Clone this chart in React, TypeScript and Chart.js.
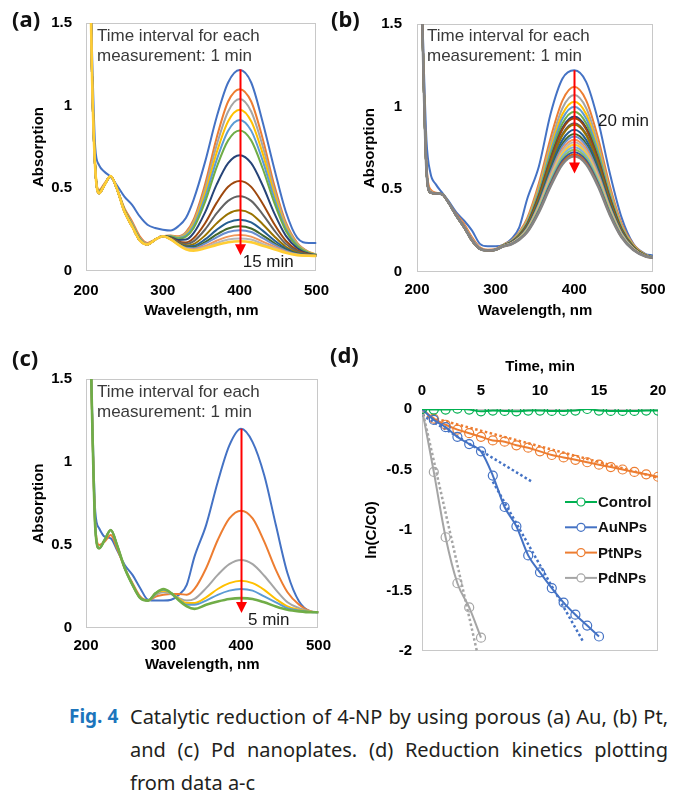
import React, { useEffect, useRef } from 'react';
import { Chart, registerables } from 'chart.js';
Chart.register(...registerables);

const FONT = "'Liberation Sans', Arial, sans-serif";

// ---------- shared wavelength grid (nm) ----------
const WL = [205, 208, 212, 217, 224, 232, 240, 250, 260, 270, 280, 290, 300, 310, 320, 330, 340, 355, 370, 385, 400, 415, 430, 445, 460, 475, 490, 500];

const EXCEL = ['#4472C4', '#ED7D31', '#A5A5A5', '#FFC000', '#5B9BD5', '#70AD47', '#264478', '#9E480E', '#636363', '#997300', '#255E91', '#43682B', '#698ED0', '#F1975A', '#B7B7B7', '#FFCD33', '#7CAFDD', '#8CC168', '#335AA1', '#D26012', '#848484'];

// ---------- (a) Au spectra, 0..15 min ----------
const A0 = [1.9, 1.3, 0.75, 0.64, 0.6, 0.57, 0.52, 0.45, 0.4, 0.33, 0.28, 0.26, 0.25, 0.245, 0.27, 0.32, 0.43, 0.66, 0.93, 1.14, 1.215, 1.14, 0.9, 0.62, 0.36, 0.2, 0.17, 0.17];
const A1 = [1.9, 1.18, 0.64, 0.49, 0.53, 0.57, 0.5, 0.38, 0.3, 0.21, 0.17, 0.19, 0.21, 0.215, 0.21, 0.235, 0.31, 0.525, 0.805, 1.025, 1.1, 1.025, 0.8, 0.52, 0.295, 0.17, 0.115, 0.1];
const A2 = [1.9, 1.17, 0.63, 0.48, 0.525, 0.57, 0.5, 0.37, 0.29, 0.2, 0.165, 0.19, 0.21, 0.213, 0.206, 0.228, 0.297, 0.498, 0.76, 0.965, 1.04, 0.965, 0.755, 0.493, 0.282, 0.165, 0.113, 0.099];
const A3 = [1.9, 1.16, 0.63, 0.48, 0.52, 0.57, 0.5, 0.37, 0.28, 0.195, 0.16, 0.19, 0.21, 0.212, 0.203, 0.221, 0.284, 0.471, 0.715, 0.906, 0.976, 0.906, 0.71, 0.466, 0.269, 0.16, 0.112, 0.099];
const A4 = [1.9, 1.16, 0.63, 0.48, 0.52, 0.57, 0.5, 0.37, 0.28, 0.195, 0.16, 0.19, 0.21, 0.21, 0.2, 0.214, 0.272, 0.445, 0.671, 0.849, 0.914, 0.849, 0.666, 0.44, 0.257, 0.155, 0.11, 0.098];
const A5 = [1.9, 1.16, 0.63, 0.48, 0.52, 0.57, 0.5, 0.37, 0.28, 0.195, 0.16, 0.19, 0.21, 0.209, 0.196, 0.207, 0.259, 0.418, 0.627, 0.79, 0.85, 0.79, 0.62, 0.413, 0.244, 0.15, 0.109, 0.097];
const A6 = [1.9, 1.15, 0.62, 0.47, 0.52, 0.575, 0.5, 0.36, 0.27, 0.185, 0.16, 0.19, 0.21, 0.205, 0.188, 0.19, 0.229, 0.355, 0.522, 0.652, 0.7, 0.652, 0.517, 0.35, 0.214, 0.138, 0.105, 0.096];
const A7 = [1.9, 1.15, 0.62, 0.47, 0.52, 0.575, 0.5, 0.36, 0.27, 0.185, 0.16, 0.19, 0.21, 0.201, 0.179, 0.173, 0.198, 0.289, 0.412, 0.509, 0.544, 0.509, 0.407, 0.284, 0.183, 0.125, 0.101, 0.094];
const A8 = [1.9, 1.15, 0.62, 0.47, 0.52, 0.575, 0.5, 0.36, 0.27, 0.185, 0.16, 0.19, 0.21, 0.199, 0.174, 0.163, 0.179, 0.251, 0.348, 0.424, 0.452, 0.424, 0.343, 0.246, 0.164, 0.118, 0.099, 0.093];
const A9 = [1.9, 1.15, 0.62, 0.47, 0.52, 0.575, 0.5, 0.36, 0.27, 0.185, 0.16, 0.19, 0.21, 0.197, 0.169, 0.154, 0.162, 0.215, 0.288, 0.346, 0.367, 0.346, 0.283, 0.21, 0.147, 0.111, 0.097, 0.093];
const A10 = [1.9, 1.15, 0.62, 0.47, 0.52, 0.575, 0.5, 0.36, 0.27, 0.185, 0.16, 0.19, 0.21, 0.195, 0.166, 0.148, 0.151, 0.191, 0.249, 0.294, 0.31, 0.294, 0.244, 0.186, 0.136, 0.106, 0.095, 0.092];
const A11 = [1.9, 1.15, 0.62, 0.47, 0.52, 0.575, 0.5, 0.36, 0.27, 0.185, 0.16, 0.19, 0.21, 0.194, 0.164, 0.143, 0.143, 0.174, 0.221, 0.257, 0.27, 0.257, 0.216, 0.169, 0.128, 0.103, 0.094, 0.092];
const A12 = [1.9, 1.15, 0.62, 0.47, 0.52, 0.575, 0.5, 0.36, 0.27, 0.185, 0.16, 0.19, 0.21, 0.194, 0.163, 0.141, 0.138, 0.165, 0.204, 0.236, 0.247, 0.236, 0.199, 0.16, 0.123, 0.101, 0.094, 0.091];
const A13 = [1.9, 1.15, 0.62, 0.47, 0.52, 0.575, 0.5, 0.36, 0.27, 0.185, 0.16, 0.19, 0.21, 0.193, 0.161, 0.137, 0.132, 0.152, 0.183, 0.208, 0.217, 0.208, 0.178, 0.147, 0.117, 0.099, 0.093, 0.091];
const A14 = [1.9, 1.15, 0.62, 0.47, 0.52, 0.575, 0.5, 0.36, 0.27, 0.185, 0.16, 0.19, 0.21, 0.192, 0.16, 0.135, 0.128, 0.144, 0.169, 0.19, 0.197, 0.19, 0.164, 0.139, 0.113, 0.097, 0.092, 0.091];
const A15 = [1.9, 1.15, 0.62, 0.47, 0.52, 0.575, 0.5, 0.36, 0.27, 0.185, 0.16, 0.19, 0.21, 0.192, 0.159, 0.132, 0.123, 0.137, 0.158, 0.174, 0.18, 0.174, 0.153, 0.132, 0.11, 0.096, 0.092, 0.091];
const SPEC_A = [A0, A1, A2, A3, A4, A5, A6, A7, A8, A9, A10, A11, A12, A13, A14, A15];

// ---------- (b) Pt spectra, 0..20 min ----------
const B0 = [1.9, 1.35, 0.8, 0.6, 0.53, 0.48, 0.43, 0.36, 0.31, 0.25, 0.17, 0.155, 0.155, 0.165, 0.2, 0.27, 0.44, 0.64, 0.96, 1.17, 1.22, 1.15, 0.92, 0.6, 0.33, 0.17, 0.11, 0.1];
const B1 = [1.9, 1.28, 0.66, 0.5, 0.48, 0.47, 0.42, 0.35, 0.29, 0.21, 0.15, 0.135, 0.14, 0.166, 0.191, 0.242, 0.324, 0.538, 0.814, 1.038, 1.12, 1.038, 0.814, 0.523, 0.294, 0.167, 0.106, 0.09];
const B2 = [1.9, 1.26, 0.64, 0.49, 0.478, 0.47, 0.42, 0.345, 0.28, 0.2, 0.145, 0.132, 0.137, 0.164, 0.188, 0.237, 0.314, 0.517, 0.779, 0.992, 1.07, 0.992, 0.779, 0.502, 0.284, 0.163, 0.104, 0.09];
const B3 = [1.9, 1.25, 0.62, 0.48, 0.475, 0.47, 0.42, 0.34, 0.27, 0.19, 0.14, 0.13, 0.135, 0.163, 0.186, 0.232, 0.306, 0.501, 0.751, 0.956, 1.03, 0.956, 0.751, 0.486, 0.276, 0.159, 0.103, 0.089];
const B4 = [1.9, 1.25, 0.62, 0.48, 0.475, 0.47, 0.42, 0.34, 0.27, 0.19, 0.14, 0.13, 0.135, 0.163, 0.185, 0.229, 0.3, 0.488, 0.73, 0.928, 1.0, 0.928, 0.73, 0.473, 0.27, 0.157, 0.103, 0.089];
const B5 = [1.9, 1.25, 0.62, 0.48, 0.475, 0.47, 0.42, 0.34, 0.27, 0.19, 0.14, 0.13, 0.135, 0.162, 0.183, 0.226, 0.294, 0.475, 0.709, 0.9, 0.97, 0.9, 0.709, 0.46, 0.264, 0.155, 0.102, 0.089];
const B6 = [1.9, 1.25, 0.62, 0.48, 0.475, 0.47, 0.42, 0.34, 0.27, 0.19, 0.14, 0.13, 0.135, 0.161, 0.181, 0.222, 0.288, 0.463, 0.688, 0.873, 0.94, 0.873, 0.688, 0.448, 0.258, 0.152, 0.101, 0.088];
const B7 = [1.9, 1.25, 0.62, 0.48, 0.475, 0.47, 0.42, 0.34, 0.27, 0.19, 0.14, 0.13, 0.135, 0.161, 0.181, 0.221, 0.286, 0.459, 0.681, 0.864, 0.93, 0.864, 0.681, 0.444, 0.256, 0.151, 0.101, 0.088];
const B8 = [1.9, 1.25, 0.62, 0.48, 0.475, 0.47, 0.42, 0.34, 0.27, 0.19, 0.14, 0.13, 0.135, 0.16, 0.179, 0.218, 0.28, 0.446, 0.66, 0.836, 0.9, 0.836, 0.66, 0.431, 0.25, 0.149, 0.1, 0.088];
const B9 = [1.9, 1.25, 0.62, 0.48, 0.475, 0.47, 0.42, 0.34, 0.27, 0.19, 0.14, 0.13, 0.135, 0.16, 0.178, 0.217, 0.278, 0.442, 0.653, 0.827, 0.89, 0.827, 0.653, 0.427, 0.248, 0.148, 0.1, 0.088];
const B10 = [1.9, 1.25, 0.62, 0.48, 0.475, 0.47, 0.42, 0.34, 0.27, 0.19, 0.14, 0.13, 0.135, 0.159, 0.177, 0.214, 0.272, 0.429, 0.632, 0.799, 0.86, 0.799, 0.632, 0.414, 0.242, 0.146, 0.099, 0.088];
const B11 = [1.9, 1.25, 0.62, 0.48, 0.475, 0.47, 0.42, 0.34, 0.27, 0.19, 0.14, 0.13, 0.135, 0.158, 0.175, 0.211, 0.267, 0.419, 0.615, 0.776, 0.835, 0.776, 0.615, 0.404, 0.237, 0.144, 0.098, 0.087];
const B12 = [1.9, 1.25, 0.62, 0.48, 0.475, 0.47, 0.42, 0.34, 0.27, 0.19, 0.14, 0.13, 0.135, 0.158, 0.175, 0.209, 0.264, 0.412, 0.604, 0.762, 0.82, 0.762, 0.604, 0.397, 0.234, 0.143, 0.098, 0.087];
const B13 = [1.9, 1.25, 0.62, 0.48, 0.475, 0.47, 0.42, 0.34, 0.27, 0.19, 0.14, 0.13, 0.135, 0.158, 0.174, 0.207, 0.26, 0.404, 0.59, 0.744, 0.8, 0.744, 0.59, 0.389, 0.23, 0.141, 0.098, 0.087];
const B14 = [1.9, 1.25, 0.62, 0.48, 0.475, 0.47, 0.42, 0.34, 0.27, 0.19, 0.14, 0.13, 0.135, 0.157, 0.173, 0.205, 0.257, 0.398, 0.58, 0.73, 0.785, 0.73, 0.58, 0.383, 0.227, 0.14, 0.097, 0.087];
const B15 = [1.9, 1.25, 0.62, 0.48, 0.475, 0.47, 0.42, 0.34, 0.27, 0.19, 0.14, 0.13, 0.135, 0.157, 0.172, 0.204, 0.254, 0.391, 0.569, 0.716, 0.77, 0.716, 0.569, 0.376, 0.224, 0.139, 0.097, 0.087];
const B16 = [1.9, 1.25, 0.62, 0.48, 0.475, 0.47, 0.42, 0.34, 0.27, 0.19, 0.14, 0.13, 0.135, 0.156, 0.171, 0.202, 0.251, 0.385, 0.559, 0.703, 0.755, 0.703, 0.559, 0.37, 0.221, 0.137, 0.096, 0.087];
const B17 = [1.9, 1.25, 0.62, 0.48, 0.475, 0.47, 0.42, 0.34, 0.27, 0.19, 0.14, 0.13, 0.135, 0.156, 0.17, 0.2, 0.248, 0.379, 0.548, 0.689, 0.74, 0.689, 0.548, 0.364, 0.218, 0.136, 0.096, 0.086];
const B18 = [1.9, 1.25, 0.62, 0.48, 0.475, 0.47, 0.42, 0.34, 0.27, 0.19, 0.14, 0.13, 0.135, 0.156, 0.169, 0.199, 0.245, 0.373, 0.538, 0.675, 0.725, 0.675, 0.538, 0.358, 0.215, 0.135, 0.096, 0.086];
const B19 = [1.9, 1.25, 0.62, 0.48, 0.475, 0.47, 0.42, 0.34, 0.27, 0.19, 0.14, 0.13, 0.135, 0.155, 0.169, 0.197, 0.242, 0.366, 0.527, 0.661, 0.71, 0.661, 0.527, 0.351, 0.212, 0.134, 0.095, 0.086];
const B20 = [1.9, 1.25, 0.62, 0.48, 0.475, 0.47, 0.42, 0.34, 0.27, 0.19, 0.14, 0.13, 0.135, 0.155, 0.168, 0.196, 0.24, 0.362, 0.52, 0.652, 0.7, 0.652, 0.52, 0.347, 0.21, 0.133, 0.095, 0.086];
const SPEC_B = [B0, B1, B2, B3, B4, B5, B6, B7, B8, B9, B10, B11, B12, B13, B14, B15, B16, B17, B18, B19, B20];

// ---------- (c) Pd spectra, 0..5 min ----------
const C0 = [1.9, 1.3, 0.7, 0.6, 0.55, 0.54, 0.47, 0.38, 0.32, 0.24, 0.17, 0.165, 0.165, 0.17, 0.2, 0.26, 0.43, 0.62, 0.88, 1.1, 1.2, 1.12, 0.92, 0.62, 0.33, 0.16, 0.1, 0.095];
const C1 = [1.9, 1.25, 0.62, 0.5, 0.52, 0.56, 0.48, 0.36, 0.27, 0.19, 0.165, 0.19, 0.2, 0.205, 0.205, 0.2, 0.235, 0.36, 0.53, 0.66, 0.707, 0.66, 0.52, 0.35, 0.215, 0.14, 0.1, 0.095];
const C2 = [1.9, 1.25, 0.6, 0.48, 0.53, 0.59, 0.5, 0.36, 0.26, 0.18, 0.165, 0.2, 0.215, 0.205, 0.18, 0.165, 0.175, 0.24, 0.32, 0.385, 0.41, 0.385, 0.315, 0.23, 0.155, 0.12, 0.1, 0.095];
const C3 = [1.9, 1.25, 0.6, 0.48, 0.53, 0.59, 0.5, 0.36, 0.26, 0.18, 0.165, 0.21, 0.225, 0.21, 0.175, 0.15, 0.15, 0.185, 0.235, 0.27, 0.285, 0.27, 0.23, 0.175, 0.13, 0.11, 0.098, 0.095];
const C4 = [1.9, 1.25, 0.6, 0.48, 0.53, 0.59, 0.5, 0.36, 0.26, 0.18, 0.165, 0.21, 0.23, 0.21, 0.17, 0.14, 0.14, 0.165, 0.2, 0.225, 0.235, 0.225, 0.19, 0.155, 0.12, 0.105, 0.097, 0.095];
const C5 = [1.9, 1.25, 0.6, 0.48, 0.53, 0.59, 0.5, 0.36, 0.26, 0.18, 0.165, 0.21, 0.235, 0.21, 0.165, 0.13, 0.115, 0.14, 0.16, 0.175, 0.18, 0.175, 0.155, 0.13, 0.11, 0.1, 0.095, 0.095];
const SPEC_C = [C0, C1, C2, C3, C4, C5];

const ABS_TICKS = [0, 0.5, 1, 1.5];
const WL_TICKS = [200, 300, 400, 500];
const NOTE = ['Time interval for each', 'measurement: 1 min'];

// ---------- (d) kinetics ----------
const TIME = [0, 1, 2, 3, 4, 5, 6, 7, 8, 9, 10, 11, 12, 13, 14, 15, 16, 17, 18, 19, 20];
const CONTROL = [0, -0.005, -0.005, 0.003, -0.005, -0.019, -0.013, -0.016, -0.019, -0.013, -0.013, -0.016, -0.016, -0.013, 0, -0.013, -0.016, -0.016, -0.016, -0.013, -0.013];
const AU = [0, -0.09, -0.15, -0.23, -0.29, -0.35, -0.55, -0.81, -0.97, -1.21, -1.35, -1.48, -1.6, -1.7, -1.79, -1.88];
const PT = [0, -0.08, -0.13, -0.17, -0.2, -0.23, -0.26, -0.27, -0.3, -0.32, -0.35, -0.38, -0.4, -0.42, -0.44, -0.46, -0.48, -0.5, -0.52, -0.54, -0.56];
const PD = [0, -0.52, -1.06, -1.44, -1.64, -1.89];
const AU_FIT1_T = [0, 9.3];
const AU_FIT1_Y = [-0.05, -0.6];
const AU_FIT2_T = [6, 13.7];
const AU_FIT2_Y = [-0.6, -1.93];
const PT_FIT_T = [0, 20];
const PT_FIT_Y = [-0.05, -0.568];
const PD_FIT_T = [0.1, 4.65];
const PD_FIT_Y = [-0.04, -2.0];
const LN_TICKS = [0, -0.5, -1, -1.5, -2];
const TIME_TICKS = [0, 5, 10, 15, 20];

const C_GREEN = '#00B050';
const C_BLUE = '#4472C4';
const C_ORANGE = '#ED7D31';
const C_GRAY = '#A5A5A5';

// ---------- plugins ----------
const framePlugin = {
  id: 'frame',
  beforeDatasetsDraw(chart: any, _a: any, o: any) {
    if (!o || !o.color) return;
    const { ctx, chartArea: a } = chart;
    ctx.save();
    ctx.strokeStyle = o.color;
    ctx.lineWidth = 1;
    ctx.strokeRect(Math.round(a.left) + 0.5, Math.round(a.top) + 0.5, Math.round(a.width) - 1, Math.round(a.height) - 1);
    ctx.restore();
  },
};

const annoPlugin = {
  id: 'anno',
  afterDatasetsDraw(chart: any, _a: any, o: any) {
    if (!o || !o.arrow) return;
    const { ctx, chartArea: a } = chart;
    const xs = chart.scales.x;
    const ys = chart.scales.y;
    ctx.save();
    ctx.font = `17px ${FONT}`;
    ctx.fillStyle = '#3a3a3a';
    ctx.textAlign = 'left';
    ctx.textBaseline = 'middle';
    NOTE.forEach((line, i) => ctx.fillText(line, a.left + o.noteDx, a.top + o.noteDy + i * 20));
    const x = Math.round(xs.getPixelForValue(o.arrow.x)) + 0.5;
    const y1 = ys.getPixelForValue(o.arrow.from);
    const y2 = ys.getPixelForValue(o.arrow.to);
    ctx.strokeStyle = '#FF0000';
    ctx.fillStyle = '#FF0000';
    ctx.lineWidth = 2;
    ctx.beginPath();
    ctx.moveTo(x, y1);
    ctx.lineTo(x, y2 - 8);
    ctx.stroke();
    ctx.beginPath();
    ctx.moveTo(x - 5.5, y2 - 11);
    ctx.lineTo(x + 5.5, y2 - 11);
    ctx.lineTo(x, y2);
    ctx.closePath();
    ctx.fill();
    ctx.fillStyle = '#1a1a1a';
    ctx.fillText(o.label.text, xs.getPixelForValue(o.label.x), ys.getPixelForValue(o.label.y));
    ctx.restore();
  },
};

const legendPlugin = {
  id: 'boxLegend',
  afterDatasetsDraw(chart: any, _a: any, o: any) {
    if (!o || !o.items) return;
    const { ctx, chartArea: a } = chart;
    ctx.save();
    o.items.forEach((idx: number, i: number) => {
      const ds = chart.data.datasets[idx];
      const x0 = a.left + o.x;
      const y = a.top + o.y + i * o.gap;
      ctx.strokeStyle = ds.borderColor;
      ctx.lineWidth = 2;
      ctx.beginPath();
      ctx.moveTo(x0, y);
      ctx.lineTo(x0 + 32, y);
      ctx.stroke();
      ctx.lineWidth = 1.2;
      ctx.beginPath();
      ctx.arc(x0 + 16, y, 4, 0, Math.PI * 2);
      ctx.fillStyle = '#ffffff';
      ctx.fill();
      ctx.stroke();
      ctx.fillStyle = '#111';
      ctx.font = `bold 15px ${FONT}`;
      ctx.textAlign = 'left';
      ctx.textBaseline = 'middle';
      ctx.fillText(ds.label, x0 + 33, y + 1);
    });
    ctx.restore();
  },
};

const tickFont = { family: FONT, size: 15, weight: 'bold' as const };
const numLabel = (v: any) => String(Number(v));

function spectraConfig(specs: number[][], g: any, anno: any) {
  return {
    type: 'line',
    data: {
      datasets: specs.map((vals, i) => ({
        label: `t${i}`,
        data: WL.map((w, j) => ({ x: w, y: vals[j] })),
        borderColor: EXCEL[i],
        borderWidth: i === specs.length - 1 ? 2.6 : 2,
        pointRadius: 0,
        cubicInterpolationMode: 'monotone',
        fill: false,
        order: -i,
      })),
    },
    options: {
      animation: false,
      responsive: false,
      maintainAspectRatio: false,
      events: [],
      layout: { padding: { left: 0, top: g.top, right: g.right, bottom: 0 } },
      plugins: {
        legend: { display: false },
        tooltip: { enabled: false },
        frame: { color: '#C8C8C8' },
        anno,
      },
      scales: {
        x: {
          type: 'linear',
          min: 200,
          max: 500,
          afterBuildTicks: (s: any) => { s.ticks = WL_TICKS.map((v) => ({ value: v })); },
          ticks: { padding: g.xTickPad, font: tickFont, color: '#000', maxRotation: 0, callback: numLabel },
          grid: { display: false, drawTicks: false },
          border: { display: false },
          title: { display: true, text: 'Wavelength, nm', font: tickFont, color: '#000', padding: { top: 0, bottom: 0 } },
          afterFit: (s: any) => { s.height = g.xH; },
        },
        y: {
          type: 'linear',
          min: 0,
          max: 1.5,
          afterBuildTicks: (s: any) => { s.ticks = ABS_TICKS.map((v) => ({ value: v })); },
          ticks: { padding: g.yTickPad, font: tickFont, color: '#000', callback: numLabel },
          grid: { display: false, drawTicks: false },
          border: { display: false },
          title: { display: true, text: 'Absorption', font: tickFont, color: '#000', padding: { top: g.yTitlePad, bottom: 0 } },
          afterFit: (s: any) => { s.width = g.yW; },
        },
      },
    },
    plugins: [framePlugin, annoPlugin],
  };
}

function kineticsConfig() {
  const pts = (ts: number[], ys: number[]) => ys.map((y, i) => ({ x: ts[i], y }));
  const series = (label: string, color: string, ys: number[]) => ({
    label,
    data: pts(TIME, ys),
    borderColor: color,
    borderWidth: 2,
    pointRadius: 4.5,
    pointBorderWidth: 1.2,
    pointBorderColor: color,
    pointBackgroundColor: 'rgba(255,255,255,0)',
    cubicInterpolationMode: 'monotone',
    fill: false,
  });
  const fit = (color: string, ts: number[], ys: number[]) => ({
    label: 'fit',
    data: pts(ts, ys),
    borderColor: color,
    borderWidth: 2.5,
    borderDash: [2.5, 2.5],
    pointRadius: 0,
    fill: false,
  });
  return {
    type: 'line',
    data: {
      datasets: [
        series('Control', C_GREEN, CONTROL),
        series('AuNPs', C_BLUE, AU),
        series('PtNPs', C_ORANGE, PT),
        series('PdNPs', C_GRAY, PD),
        fit(C_BLUE, AU_FIT1_T, AU_FIT1_Y),
        fit(C_BLUE, AU_FIT2_T, AU_FIT2_Y),
        fit(C_ORANGE, PT_FIT_T, PT_FIT_Y),
        fit(C_GRAY, PD_FIT_T, PD_FIT_Y),
      ],
    },
    options: {
      animation: false,
      responsive: false,
      maintainAspectRatio: false,
      events: [],
      layout: { padding: { left: 0, top: 28, right: 28, bottom: 13 } },
      plugins: {
        legend: { display: false },
        tooltip: { enabled: false },
        frame: { color: '#C8C8C8' },
        boxLegend: { items: [0, 1, 2, 3], x: 143, y: 93, gap: 25.3 },
      },
      scales: {
        x: {
          type: 'linear',
          position: 'top',
          min: 0,
          max: 20,
          afterBuildTicks: (s: any) => { s.ticks = TIME_TICKS.map((v) => ({ value: v })); },
          ticks: { padding: 9, font: tickFont, color: '#000', maxRotation: 0, callback: numLabel },
          grid: { display: false, drawTicks: false },
          border: { display: false },
          title: { display: true, text: 'Time, min', font: tickFont, color: '#000', padding: { top: 0, bottom: 0 } },
          afterFit: (s: any) => { s.height = 51; },
        },
        y: {
          type: 'linear',
          min: -2,
          max: 0,
          afterBuildTicks: (s: any) => { s.ticks = LN_TICKS.map((v) => ({ value: v })); },
          ticks: { padding: 10, font: tickFont, color: '#000', callback: numLabel },
          grid: { display: false, drawTicks: false },
          border: { display: false },
          title: { display: true, text: 'ln(C/C0)', font: tickFont, color: '#000', padding: { top: 33, bottom: 0 } },
          afterFit: (s: any) => { s.width = 92; },
        },
      },
    },
    plugins: [framePlugin, legendPlugin],
  };
}

function ChartBox({ left, top, width, height, make }: any) {
  const ref = useRef<HTMLCanvasElement>(null);
  useEffect(() => {
    const chart = new Chart(ref.current as HTMLCanvasElement, make());
    return () => chart.destroy();
  }, []);
  return (
    <canvas
      ref={ref}
      width={width}
      height={height}
      style={{ position: 'absolute', left, top, width, height, display: 'block' }}
    />
  );
}

const panelLabel: React.CSSProperties = {
  position: 'absolute',
  fontFamily: "'Noto Sans', 'Open Sans', sans-serif",
  fontWeight: 700,
  fontSize: 22,
  lineHeight: '30px',
  color: '#111',
};

const capLine: React.CSSProperties = {
  position: 'absolute',
  left: 130,
  width: 538,
  fontFamily: "'Noto Sans', sans-serif",
  fontSize: 20,
  lineHeight: '33px',
  color: '#231f20',
  whiteSpace: 'nowrap',
};

export default function App() {
  const gA = { top: 22, right: 20, yW: 86, xH: 49, xTickPad: 11, yTickPad: 14, yTitlePad: 30 };
  const gB = { top: 23, right: 33, yW: 87, xH: 48, xTickPad: 9, yTickPad: 15, yTitlePad: 31 };
  const gC = { top: 49, right: 19, yW: 86, xH: 46, xTickPad: 9, yTickPad: 14, yTitlePad: 30 };
  return (
    <div style={{ position: 'absolute', left: 0, top: 0, width: 686, height: 801, background: '#fff', overflow: 'hidden' }}>
      <ChartBox left={0} top={0} width={340} height={320}
        make={() => spectraConfig(SPEC_A, gA, { noteDx: 11, noteDy: 13, arrow: { x: 400, from: 1.22, to: 0.096 }, label: { text: '15 min', x: 404, y: 0.05 } })} />
      <ChartBox left={330} top={0} width={356} height={320}
        make={() => spectraConfig(SPEC_B, gB, { noteDx: 10, noteDy: 12, arrow: { x: 400, from: 1.22, to: 0.596 }, label: { text: '20 min', x: 430, y: 0.91 } })} />
      <ChartBox left={0} top={330} width={340} height={344}
        make={() => spectraConfig(SPEC_C, gC, { noteDx: 11, noteDy: 13, arrow: { x: 400, from: 1.2, to: 0.09 }, label: { text: '5 min', x: 409, y: 0.048 } })} />
      <ChartBox left={330} top={330} width={356} height={340} make={kineticsConfig} />

      <div style={{ ...panelLabel, left: 12, top: 3 }}>(a)</div>
      <div style={{ ...panelLabel, left: 331, top: 3 }}>(b)</div>
      <div style={{ ...panelLabel, left: 12, top: 342 }}>(c)</div>
      <div style={{ ...panelLabel, left: 330, top: 339 }}>(d)</div>

      <div style={{ position: 'absolute', left: 69, top: 700, fontFamily: "'Noto Sans', sans-serif", fontWeight: 700, fontSize: 19, lineHeight: '33px', color: '#1c75bc' }}>Fig. 4</div>
      <div style={{ ...capLine, top: 700, textAlign: 'justify', textAlignLast: 'justify' }}>Catalytic reduction of 4-NP by using porous (a) Au, (b) Pt,</div>
      <div style={{ ...capLine, top: 733, textAlign: 'justify', textAlignLast: 'justify' }}>and (c) Pd nanoplates. (d) Reduction kinetics plotting</div>
      <div style={{ ...capLine, top: 766 }}>from data a-c</div>
    </div>
  );
}
